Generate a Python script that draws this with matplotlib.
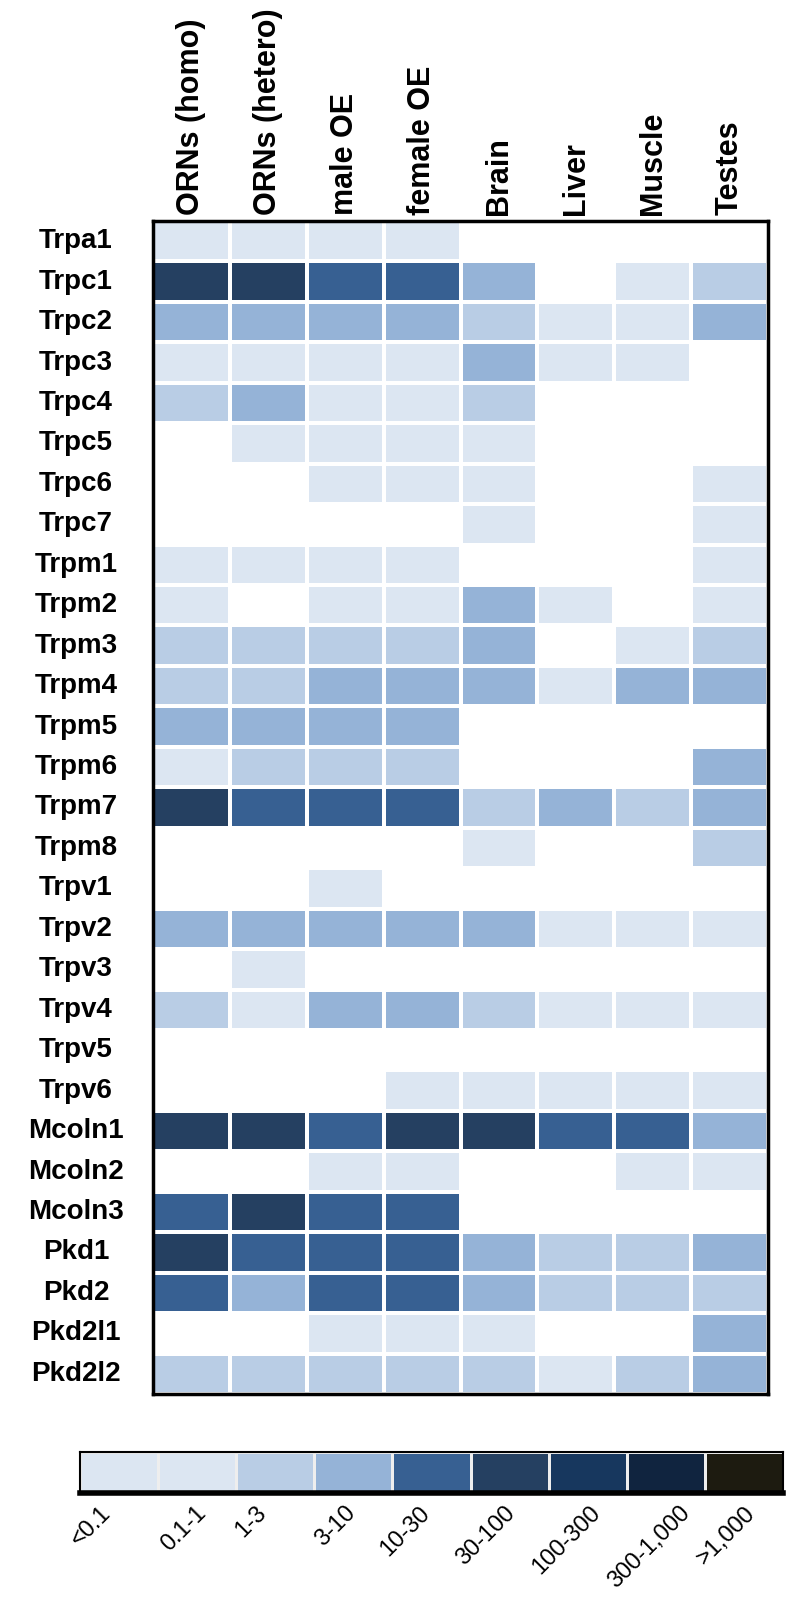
import matplotlib
matplotlib.use("Agg")
import matplotlib.pyplot as plt
import numpy as np
from matplotlib.colors import ListedColormap, BoundaryNorm
from matplotlib import transforms


# ----------------------------------------------------------
# DATA
# ----------------------------------------------------------

genes = [
    "Trpa1", "Trpc1", "Trpc2", "Trpc3", "Trpc4", "Trpc5", "Trpc6",
    "Trpc7", "Trpm1", "Trpm2", "Trpm3", "Trpm4", "Trpm5", "Trpm6",
    "Trpm7", "Trpm8", "Trpv1", "Trpv2", "Trpv3", "Trpv4", "Trpv5",
    "Trpv6", "Mcoln1", "Mcoln2", "Mcoln3", "Pkd1", "Pkd2", "Pkd2l1",
    "Pkd2l2",
]

tissues = [
    "ORNs (homo)", "ORNs (hetero)", "male OE", "female OE",
    "Brain", "Liver", "Muscle", "Testes",
]

# expression bins (legend order)
bins = [
    "<0.1", "0.1-1", "1-3", "3-10", "10-30",
    "30-100", "100-300", "300-1,000", ">1,000",
]

bin_colors = [
    "#dce6f2", "#dce6f2", "#b9cde5", "#95b3d7", "#376092",
    "#254061", "#17375e", "#10243f", "#1d1b10",
]

# bin index per gene / tissue, -1 = not detected
levels = [
    [1, 1, 1, 1, -1, -1, -1, -1],   # Trpa1
    [5, 5, 4, 4, 3, -1, 1, 2],      # Trpc1
    [3, 3, 3, 3, 2, 1, 1, 3],       # Trpc2
    [1, 1, 1, 1, 3, 1, 1, -1],      # Trpc3
    [2, 3, 1, 1, 2, -1, -1, -1],    # Trpc4
    [-1, 1, 1, 1, 1, -1, -1, -1],   # Trpc5
    [-1, -1, 1, 1, 1, -1, -1, 1],   # Trpc6
    [-1, -1, -1, -1, 1, -1, -1, 1], # Trpc7
    [1, 1, 1, 1, -1, -1, -1, 1],    # Trpm1
    [1, -1, 1, 1, 3, 1, -1, 1],     # Trpm2
    [2, 2, 2, 2, 3, -1, 1, 2],      # Trpm3
    [2, 2, 3, 3, 3, 1, 3, 3],       # Trpm4
    [3, 3, 3, 3, -1, -1, -1, -1],   # Trpm5
    [1, 2, 2, 2, -1, -1, -1, 3],    # Trpm6
    [5, 4, 4, 4, 2, 3, 2, 3],       # Trpm7
    [-1, -1, -1, -1, 1, -1, -1, 2], # Trpm8
    [-1, -1, 1, -1, -1, -1, -1, -1],  # Trpv1
    [3, 3, 3, 3, 3, 1, 1, 1],       # Trpv2
    [-1, 1, -1, -1, -1, -1, -1, -1],  # Trpv3
    [2, 1, 3, 3, 2, 1, 1, 1],       # Trpv4
    [-1, -1, -1, -1, -1, -1, -1, -1],  # Trpv5
    [-1, -1, -1, 1, 1, 1, 1, 1],    # Trpv6
    [5, 5, 4, 5, 5, 4, 4, 3],       # Mcoln1
    [-1, -1, 1, 1, -1, -1, 1, 1],   # Mcoln2
    [4, 5, 4, 4, -1, -1, -1, -1],   # Mcoln3
    [5, 4, 4, 4, 3, 2, 2, 3],       # Pkd1
    [4, 3, 4, 4, 3, 2, 2, 2],       # Pkd2
    [-1, -1, 1, 1, 1, -1, -1, 3],   # Pkd2l1
    [2, 2, 2, 2, 2, 1, 2, 3],       # Pkd2l2
]

# ----------------------------------------------------------
# STYLE
# ----------------------------------------------------------

plt.rcParams["font.family"] = ["Liberation Sans", "DejaVu Sans"]

cmap = ListedColormap(bin_colors)
norm = BoundaryNorm(np.arange(-0.5, len(bins) + 0.5), cmap.N)

fig = plt.figure(figsize=(7.86, 16), dpi=100)

# ----------------------------------------------------------
# HEATMAP
# ----------------------------------------------------------

ax = fig.add_axes([153 / 786, 1 - 1394 / 1600, 615 / 786, 1173 / 1600])

grid = np.ma.masked_less(np.array(levels, dtype=float), 0)

ax.pcolormesh(
    grid,
    cmap=cmap,
    norm=norm,
    edgecolors="white",
    linewidth=1.5,
)

ax.set_xlim(0, len(tissues))
ax.set_ylim(len(genes), 0)

ax.set_xticks(np.arange(len(tissues)) + 0.5)
ax.set_xticklabels(tissues, rotation=90, fontsize=22, fontweight="bold",
                   va="bottom", ha="center")
ax.xaxis.tick_top()
ax.tick_params(axis="x", length=0, pad=4)

ax.set_yticks([])
row_tf = transforms.blended_transform_factory(fig.transFigure, ax.transData)
for i, g in enumerate(genes):
    ax.text(76 / 786, i + 0.5, g, transform=row_tf, ha="center", va="center",
            fontsize=20, fontweight="bold")

for sp in ax.spines.values():
    sp.set_linewidth(2.5)
    sp.set_color("black")

# ----------------------------------------------------------
# LEGEND BAR
# ----------------------------------------------------------

cax = fig.add_axes([80 / 786, 1 - 1493 / 1600, 703 / 786, 41 / 1600])

cax.pcolormesh(
    np.arange(len(bins))[None, :],
    cmap=cmap,
    norm=norm,
    edgecolors="#eeeeee",
    linewidth=1.0,
)
cax.set_xlim(0, len(bins))
cax.set_ylim(0, 1)
cax.set_xticks([])
cax.set_yticks([])
for name, sp in cax.spines.items():
    sp.set_color("black")
    sp.set_linewidth(4 if name == "bottom" else 1.5)

# right end of each rotated label, relative to the cell centre
label_shift = [-0.05, 0.17, -0.06, 0.08, 0.04, 0.13, 0.22, 0.37, 0.2]
lab_tf = transforms.blended_transform_factory(cax.transData, cax.transAxes)
for i, b in enumerate(bins):
    cax.text(i + 0.5 + label_shift[i], -0.22, b, transform=lab_tf,
             rotation=45, ha="right", va="top", fontsize=17)

fig.savefig("out.png", dpi=100, facecolor="white")
